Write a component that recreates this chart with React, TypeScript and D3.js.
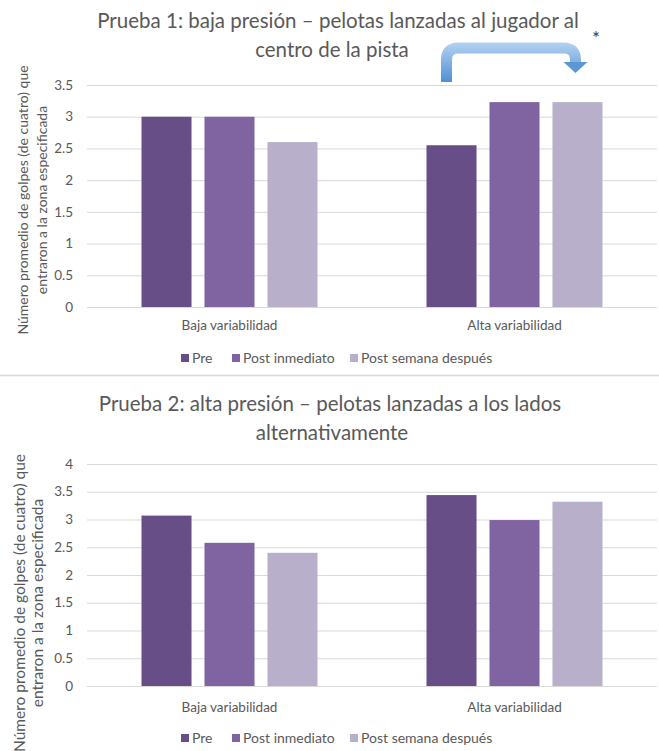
import React, { useEffect, useRef } from 'react';
import * as d3 from 'd3';

const categories = ['Baja variabilidad', 'Alta variabilidad'];
const seriesNames = ['Pre', 'Post inmediato', 'Post semana después'];
const seriesColors = ['#684e86', '#8064a2', '#b8afcb'];

// Prueba 1 (baja presión)
const p1Pre = [3.0, 2.55];
const p1PostInm = [3.0, 3.23];
const p1PostSem = [2.6, 3.23];
const p1Ticks = [0, 0.5, 1, 1.5, 2, 2.5, 3, 3.5];

// Prueba 2 (alta presión)
const p2Pre = [3.07, 3.44];
const p2PostInm = [2.58, 2.99];
const p2PostSem = [2.4, 3.32];
const p2Ticks = [0, 0.5, 1, 1.5, 2, 2.5, 3, 3.5, 4];

const yTitleLines = ['Número promedio de golpes (de cuatro) que', 'entraron a la zona especificada'];

const WIDTH = 659;
const HEIGHT = 751;
const INK = '#595959';
const GRID = '#d9d9d9';
const FONT = 'Lato, "Open Sans", sans-serif';

interface PanelOpts {
  top: number;
  title: string[];
  titleX: number[];
  titleY: number[];
  series: number[][];
  ticks: number[];
  axisFont: number;
  axisX: number[];
  axisCenter: number;
  catY: number;
  legendY: number;
  arrow?: boolean;
}

function drawPanel(svg: d3.Selection<SVGSVGElement, unknown, null, undefined>, o: PanelOpts) {
  const g = svg.append('g').attr('transform', `translate(0,${o.top})`);
  const plot = { left: 87, right: 657, top: 85, bottom: 307 };

  const x0 = d3.scaleBand<string>().domain(categories).range([plot.left, plot.right]);
  const groupW = 176;
  const x1 = d3.scaleBand<string>().domain(seriesNames).range([0, groupW]).paddingInner(0.206);
  const y = d3.scaleLinear()
    .domain([0, d3.max(o.ticks) as number])
    .range([plot.bottom, plot.top]);

  // title
  o.title.forEach((t, i) => {
    g.append('text')
      .attr('x', o.titleX[i])
      .attr('y', o.titleY[i])
      .attr('text-anchor', 'middle')
      .attr('fill', INK)
      .style('font-family', FONT)
      .style('font-size', '20.5px')
      .text(t);
  });

  // gridlines
  g.append('g').selectAll('line')
    .data(o.ticks)
    .enter()
    .append('line')
    .attr('x1', plot.left)
    .attr('x2', plot.right)
    .attr('y1', d => y(d) + 0.5)
    .attr('y2', d => y(d) + 0.5)
    .attr('stroke', GRID)
    .attr('stroke-width', 1);

  // y tick labels
  g.append('g').selectAll('text')
    .data(o.ticks)
    .enter()
    .append('text')
    .attr('x', 73)
    .attr('y', d => y(d))
    .attr('dy', '0.35em')
    .attr('text-anchor', 'end')
    .attr('fill', INK)
    .style('font-family', FONT)
    .style('font-size', '13.5px')
    .text(d => String(d));

  // y axis title
  yTitleLines.forEach((t, i) => {
    g.append('text')
      .attr('transform', `translate(${o.axisX[i]},${o.axisCenter}) rotate(-90)`)
      .attr('text-anchor', 'middle')
      .attr('dy', '0.35em')
      .attr('fill', INK)
      .style('font-family', FONT)
      .style('font-size', `${o.axisFont}px`)
      .text(t);
  });

  // bars
  categories.forEach((cat, ci) => {
    const gx = (x0(cat) as number) + (x0.bandwidth() - groupW) / 2;
    seriesNames.forEach((s, si) => {
      const v = o.series[si][ci];
      g.append('rect')
        .attr('x', gx + (x1(s) as number))
        .attr('y', y(v))
        .attr('width', x1.bandwidth())
        .attr('height', y(0) - y(v))
        .attr('fill', seriesColors[si]);
    });
    g.append('text')
      .attr('x', (x0(cat) as number) + x0.bandwidth() / 2)
      .attr('y', o.catY)
      .attr('text-anchor', 'middle')
      .attr('fill', INK)
      .style('font-family', FONT)
      .style('font-size', '13.5px')
      .text(cat);
  });

  // legend
  const legendX = [181, 232, 350];
  seriesNames.forEach((s, si) => {
    g.append('rect')
      .attr('x', legendX[si])
      .attr('y', o.legendY - 9)
      .attr('width', 8)
      .attr('height', 8)
      .attr('fill', seriesColors[si]);
    g.append('text')
      .attr('x', legendX[si] + 11)
      .attr('y', o.legendY)
      .attr('fill', INK)
      .style('font-family', FONT)
      .style('font-size', '14px')
      .text(s);
  });

  // curved arrow annotation over "Alta variabilidad"
  if (o.arrow) {
    const cat = categories[1];
    const gx = (x0(cat) as number) + (x0.bandwidth() - groupW) / 2;
    const xa = gx + (x1(seriesNames[0]) as number) + x1.bandwidth() / 2 - 5;
    const xb = gx + (x1(seriesNames[2]) as number) + x1.bandwidth() / 2 - 2;
    const yTop = y(3.5) - 37;
    const r = 12;

    const defs = svg.append('defs');
    const grad = defs.append('linearGradient')
      .attr('id', 'arrowGrad')
      .attr('gradientUnits', 'userSpaceOnUse')
      .attr('x1', 0).attr('x2', 0)
      .attr('y1', o.top + yTop - 6).attr('y2', o.top + y(3.5));
    grad.append('stop').attr('offset', '0%').attr('stop-color', '#b4d3f2');
    grad.append('stop').attr('offset', '100%').attr('stop-color', '#4a8ad0');

    const p = d3.path();
    p.moveTo(xa, y(3.5) - 3);
    p.lineTo(xa, yTop + r);
    p.quadraticCurveTo(xa, yTop, xa + r, yTop);
    p.lineTo(xb - r, yTop);
    p.quadraticCurveTo(xb, yTop, xb, yTop + r);
    p.lineTo(xb, yTop + 14);

    g.append('path')
      .attr('d', p.toString())
      .attr('fill', 'none')
      .attr('stroke', 'url(#arrowGrad)')
      .attr('stroke-width', 11);

    const h = d3.path();
    h.moveTo(xb - 12, yTop + 14);
    h.lineTo(xb + 12, yTop + 14);
    h.lineTo(xb, yTop + 25);
    h.closePath();
    g.append('path')
      .attr('d', h.toString())
      .attr('fill', '#5b97d5');

    g.append('text')
      .attr('x', 596)
      .attr('y', 45)
      .attr('text-anchor', 'middle')
      .attr('fill', '#404040')
      .style('font-family', FONT)
      .style('font-size', '19px')
      .text('*');
  }
}

export default function App() {
  const svgRef = useRef<SVGSVGElement | null>(null);

  useEffect(() => {
    if (!svgRef.current) return;
    const svg = d3.select(svgRef.current);
    svg.selectAll('*').remove();

    svg.append('rect').attr('width', WIDTH).attr('height', HEIGHT).attr('fill', '#ffffff');

    drawPanel(svg, {
      top: 0,
      title: ['Prueba 1: baja presión – pelotas lanzadas al jugador al', 'centro de la pista'],
      titleX: [338, 332],
      titleY: [28, 57],
      series: [p1Pre, p1PostInm, p1PostSem],
      ticks: p1Ticks,
      axisFont: 14,
      axisX: [23, 42],
      axisCenter: 200,
      catY: 330,
      legendY: 363,
      arrow: true,
    });

    // separator between the two charts
    svg.append('line')
      .attr('x1', 0).attr('x2', WIDTH)
      .attr('y1', 375.5).attr('y2', 375.5)
      .attr('stroke', GRID)
      .attr('stroke-width', 1.5);

    drawPanel(svg, {
      top: 379,
      title: ['Prueba 2: alta presión – pelotas lanzadas a los lados', 'alternativamente'],
      titleX: [330, 332],
      titleY: [32, 61],
      series: [p2Pre, p2PostInm, p2PostSem],
      ticks: p2Ticks,
      axisFont: 15.5,
      axisX: [20, 38],
      axisCenter: 224,
      catY: 333,
      legendY: 364,
    });
  }, []);

  return (
    <svg
      ref={svgRef}
      width={WIDTH}
      height={HEIGHT}
      style={{ position: 'absolute', left: 0, top: 0, display: 'block' }}
    />
  );
}
